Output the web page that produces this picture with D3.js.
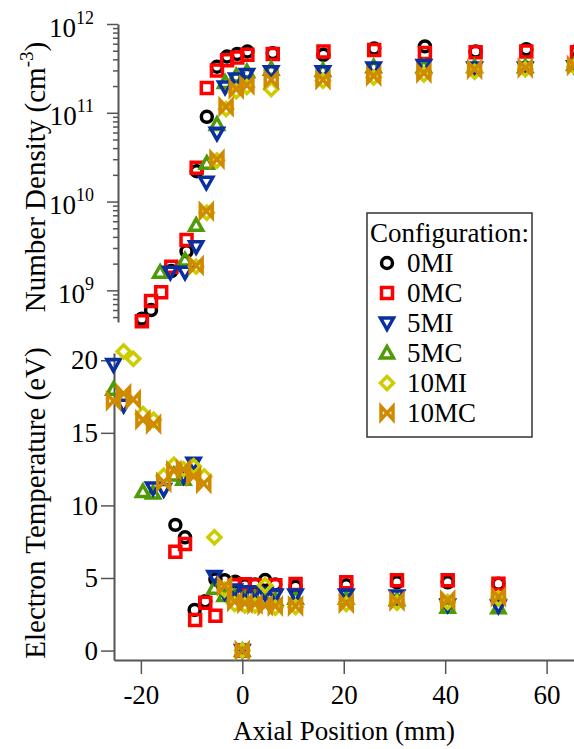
<!DOCTYPE html>
<html>
<head>
<meta charset="utf-8">
<script src="https://cdn.jsdelivr.net/npm/d3@7"></script>
<style>
  body { margin: 0; background: #fff; }
  .axis path, .axis line { stroke: #555; }
</style>
</head>
<body>
<svg id="chart" width="574" height="749"></svg>
<script>
// configurations, in legend order
var configs = ["0MI", "0MC", "5MI", "5MC", "10MI", "10MC"];
var colors  = ["#000000", "#ff0000", "#0a2f9f", "#4f9a07", "#cccc00", "#cf8a00"];
var symbols = ["circle", "square", "triDown", "triUp", "diamond", "bowtie"];

// number density (cm^-3) vs axial position (mm)
var densX_0MI = [-19.8, -18, -14, -11, -9, -7, -5, -3, -1, 1, 6, 16, 26, 36, 46, 56, 66];
var dens_0MI  = [4.8e8, 6e8, 1.65e9, 2.75e9, 2.2e10, 9e10, 3.3e11, 4.3e11, 4.6e11, 4.9e11, 4.7e11, 4.5e11, 5.3e11, 5.6e11, 4.9e11, 5.2e11, 5.0e11];
var densX_0MC = [-19.8, -18, -16, -14, -11, -9, -7, -5, -3, -1, 1, 6, 16, 26, 36, 46, 56, 66];
var dens_0MC  = [4.5e8, 7.6e8, 9.5e8, 1.85e9, 3.7e9, 2.4e10, 1.9e11, 3.0e11, 3.9e11, 4.2e11, 4.5e11, 4.6e11, 4.9e11, 5.1e11, 4.7e11, 4.8e11, 4.9e11, 4.8e11];
var densX_5MI = [-14.2, -11.3, -9.1, -7.1, -5, -3.4, -1.2, 0.9, 5.7, 15.9, 25.9, 35.8, 45.8, 55.8, 65.5];
var dens_5MI  = [1.6e9, 1.6e9, 3.1e9, 1.65e10, 5.9e10, 1.95e11, 2.4e11, 2.7e11, 2.9e11, 2.9e11, 3.2e11, 3.4e11, 3.2e11, 3.2e11, 3.3e11];
var densX_5MC = [-16.2, -11.3, -9.1, -7, -5, -3.4, -1.2, 0.9, 5.7, 15.9, 25.9, 35.8, 45.8, 55.8, 65.5];
var dens_5MC  = [1.6e9, 2.2e9, 5.4e9, 2.7e10, 7.4e10, 2.2e11, 2.6e11, 2.9e11, 3.1e11, 3.0e11, 3.3e11, 3.3e11, 3.3e11, 3.3e11, 3.5e11];
var densX_10MI = [-9.1, -7, -5, -3.2, -1.2, 0.9, 5.7, 15.9, 25.9, 35.8, 45.8, 55.8, 65.5];
var dens_10MI  = [1.85e9, 7.5e9, 2.9e10, 1.1e11, 1.75e11, 1.95e11, 1.85e11, 2.3e11, 2.5e11, 2.7e11, 2.9e11, 3.1e11, 3.3e11];
var densX_10MC = [-9.1, -7.1, -5, -3.2, -1.2, 0.9, 5.7, 15.9, 25.9, 35.8, 45.8, 55.8, 65.5];
var dens_10MC  = [1.9e9, 7.8e9, 3e10, 1.17e11, 1.85e11, 2.05e11, 2.35e11, 2.35e11, 2.6e11, 2.8e11, 3.1e11, 3.2e11, 3.4e11];

// electron temperature (eV) vs axial position (mm)
var tempX_0MI = [-13.2, -11.3, -9.4, -7.3, -5.3, -3.5, -1.4, 0, 0.5, 2.5, 4.5, 6.5, 10.5, 20.5, 30.5, 40.5, 50.5];
var temp_0MI  = [8.66, 7.8, 2.8, 3.4, 4.9, 4.85, 4.75, 0, 4.5, 4.55, 4.86, 4.55, 4.4, 4.5, 4.7, 4.7, 4.6];
var tempX_0MC = [-13.2, -11.3, -9.3, -7.3, -5.3, -1.5, 0, 0.5, 2.5, 6.5, 10.5, 20.5, 30.5, 40.5, 50.5];
var temp_0MC  = [6.8, 7.35, 2.1, 3.3, 2.4, 4.5, 0, 4.56, 4.5, 4.5, 4.59, 4.7, 4.85, 4.85, 4.6];
var tempX_5MI = [-25.4, -23.4, -17.6, -15.5, -11.6, -9.6, -5.5, -3.5, -1.5, 0, 0.5, 2.5, 4.5, 6.5, 10.5, 20.5, 30.5, 40.5, 50.5];
var temp_5MI  = [19.7, 16.9, 11.2, 11.1, 12.0, 12.9, 5.1, 4.0, 4.17, 0, 4.06, 4.06, 3.94, 3.83, 3.83, 3.83, 3.76, 3.14, 3.07];
var tempX_5MC = [-25.4, -19.6, -17.6, -13.5, -11.6, -5.5, -3.5, -1.5, 0, 0.5, 2.5, 4.5, 6.5, 10.5, 20.5, 30.5, 40.5, 50.5];
var temp_5MC  = [18.0, 10.95, 10.85, 12.1, 11.8, 4.3, 3.8, 3.7, 0, 3.6, 3.6, 3.5, 3.5, 3.6, 3.6, 3.5, 2.98, 2.95];
var tempX_10MI = [-23.4, -21.5, -19.6, -17.5, -15.5, -13.5, -11.6, -9.6, -7.5, -5.5, -3.5, -1.5, 0, 0.5, 2.5, 4.5, 6.5, 10.5, 20.5, 30.5, 40.5, 50.5];
var temp_10MI  = [20.6, 20.1, 16.3, 15.9, 12.05, 12.8, 12.5, 12.7, 12.0, 7.8, 4.2, 3.2, 0, 3.1, 3.1, 4.5, 2.95, 3.0, 3.2, 3.3, 3.35, 3.6];
var tempX_10MC = [-25.4, -23.4, -21.5, -19.6, -17.5, -15.5, -13.5, -11.6, -9.6, -7.6, -3.5, -1.5, 0, 0.5, 2.5, 4.5, 6.5, 10.5, 20.5, 30.5, 40.5, 50.5];
var temp_10MC  = [17.2, 17.7, 17.3, 15.9, 15.6, 11.6, 12.4, 12.5, 12.0, 11.5, 4.45, 3.37, 0, 3.26, 3.2, 3.1, 3.07, 3.07, 3.26, 3.41, 3.48, 3.71];

var xTicks = [-20, 0, 20, 40, 60];
var tempTicks = [0, 5, 10, 15, 20];
var densDecades = [1e9, 1e10, 1e11, 1e12];

var densX = [densX_0MI, densX_0MC, densX_5MI, densX_5MC, densX_10MI, densX_10MC];
var densY = [dens_0MI, dens_0MC, dens_5MI, dens_5MC, dens_10MI, dens_10MC];
var tempX = [tempX_0MI, tempX_0MC, tempX_5MI, tempX_5MC, tempX_10MI, tempX_10MC];
var tempY = [temp_0MI, temp_0MC, temp_5MI, temp_5MC, temp_10MI, temp_10MC];

var drawOrder = [0, 1, 3, 2, 4, 5];
var serif = "'Liberation Serif'";

var svg = d3.select("#chart");

// scales
var x = d3.scaleLinear().domain([-25.3, 65.4]).range([114, 574]);
var yDens = d3.scaleLog().domain([4.4e8, 1e12]).range([322, 24]);
var yTemp = d3.scaleLinear().domain([-0.65, 20.5]).range([660, 353]);

// marker shapes (open, thick outline)
function markerPath(type) {
    var s = 5.5;
    if (type == "square") return "M" + (-s) + "," + (-s) + "H" + s + "V" + s + "H" + (-s) + "Z";
    if (type == "triDown") return "M-6.5,-5L6.5,-5L0,6.5Z";
    if (type == "triUp") return "M-6.5,5L6.5,5L0,-6.5Z";
    if (type == "diamond") return "M0,-6.5L6.5,0L0,6.5L-6.5,0Z";
    if (type == "bowtie") return "M-6,-6.5L-6,6.5L6,-6.5L6,6.5Z";
    return d3.symbol().type(d3.symbolCircle).size(Math.PI * 30)();
}

function drawMarkers(g, xs, ys, yScale, i) {
    g.append("g")
        .selectAll("path")
        .data(d3.range(xs.length))
        .enter()
        .append("path")
        .attr("d", markerPath(symbols[i]))
        .attr("transform", function(k) { return "translate(" + x(xs[k]) + "," + yScale(ys[k]) + ")"; })
        .attr("fill", "none")
        .attr("stroke", colors[i])
        .attr("stroke-width", 3.5);
}

function label(sel, size) {
    return sel.style("font-family", serif).style("font-size", size + "px").attr("fill", "#000");
}

// ---- top panel : density, log axis
var minorTicks = [];
[1e8, 1e9, 1e10, 1e11].forEach(function(dec) {
    d3.range(2, 10).forEach(function(m) {
        var v = dec * m;
        if (v >= 4.4e8 && v < 1e12) minorTicks.push(v);
    });
});

svg.append("g")
    .attr("class", "axis")
    .attr("transform", "translate(118,0)")
    .call(d3.axisLeft(yDens).tickValues(minorTicks).tickSize(5).tickSizeOuter(0).tickFormat(""))
    .call(function(g) { g.select(".domain").attr("stroke-width", 2); g.selectAll(".tick line").attr("stroke-width", 1.5); });

var majorAxis = svg.append("g")
    .attr("class", "axis")
    .attr("transform", "translate(118,0)")
    .call(d3.axisLeft(yDens).tickValues(densDecades).tickSize(11).tickSizeOuter(0).tickFormat(""));
majorAxis.select(".domain").remove();
majorAxis.selectAll(".tick line").attr("stroke-width", 1.5);

densDecades.forEach(function(v) {
    var exp = Math.round(Math.log10(v));
    var t = label(svg.append("text"), 27)
        .attr("x", 94)
        .attr("y", yDens(v) + 12.5)
        .attr("text-anchor", "end");
    t.append("tspan").text("10");
    t.append("tspan").attr("dy", -13).style("font-size", "18px").text(exp);
});

var densG = svg.append("g");
drawOrder.forEach(function(i) { drawMarkers(densG, densX[i], densY[i], yDens, i); });

// ---- bottom panel : temperature
var tAxis = svg.append("g")
    .attr("class", "axis")
    .attr("transform", "translate(114,0)")
    .call(d3.axisLeft(yTemp).tickValues(tempTicks).tickSize(13).tickSizeOuter(0).tickPadding(3));
tAxis.select(".domain").attr("stroke-width", 2);
tAxis.selectAll(".tick line").attr("stroke-width", 1.5);
label(tAxis.selectAll("text"), 27);

var xAxis = svg.append("g")
    .attr("class", "axis")
    .attr("transform", "translate(0,660)")
    .call(d3.axisBottom(x).tickValues(xTicks).tickSize(14).tickSizeOuter(0).tickFormat(function(d) { return String(d); }));
xAxis.select(".domain").attr("stroke-width", 2);
xAxis.selectAll(".tick line").attr("stroke-width", 1.5);
label(xAxis.selectAll("text"), 27).attr("y", 44).attr("dy", 0);

var tempG = svg.append("g");
drawOrder.forEach(function(i) { drawMarkers(tempG, tempX[i], tempY[i], yTemp, i); });

// ---- axis titles
label(svg.append("text"), 27)
    .attr("x", 344).attr("y", 740)
    .attr("text-anchor", "middle")
    .text("Axial Position (mm)");

label(svg.append("text"), 29)
    .attr("transform", "translate(45,503) rotate(-90)")
    .attr("text-anchor", "middle")
    .text("Electron Temperature (eV)");

var ytitle = label(svg.append("text"), 29)
    .attr("transform", "translate(45,177) rotate(-90)")
    .attr("text-anchor", "middle");
ytitle.append("tspan").text("Number Density (cm");
ytitle.append("tspan").attr("dy", -12).style("font-size", "19px").text("-3");
ytitle.append("tspan").attr("dy", 12).text(")");

// ---- legend
var legend = svg.append("g");
legend.append("rect")
    .attr("x", 367).attr("y", 213)
    .attr("width", 165).attr("height", 224)
    .attr("fill", "#fff")
    .attr("stroke", "#333")
    .attr("stroke-width", 1.5);
label(legend.append("text"), 27)
    .attr("x", 370).attr("y", 242)
    .text("Configuration:");
configs.forEach(function(c, i) {
    var by = 272 + 30 * i;
    legend.append("path")
        .attr("d", markerPath(symbols[i]))
        .attr("transform", "translate(387," + (by - 9) + ")")
        .attr("fill", "none")
        .attr("stroke", colors[i])
        .attr("stroke-width", 3.5);
    label(legend.append("text"), 27)
        .attr("x", 407).attr("y", by)
        .text(c);
});
</script>
</body>
</html>
